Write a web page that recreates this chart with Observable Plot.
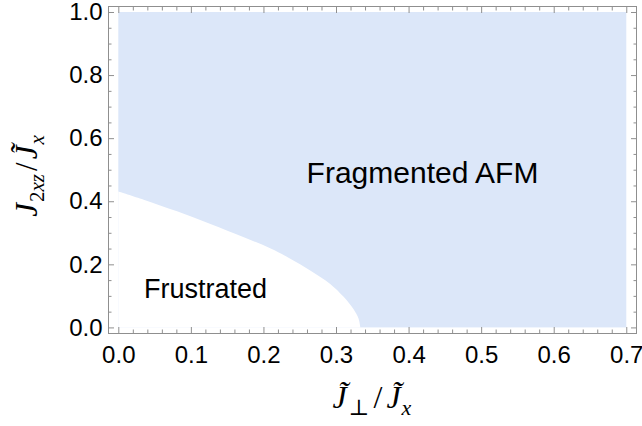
<!DOCTYPE html>
<html>
<head>
<meta charset="utf-8">
<script src="https://cdn.jsdelivr.net/npm/d3@7"></script>
<script src="https://cdn.jsdelivr.net/npm/@observablehq/plot@0.6"></script>
<style>
  html, body { margin: 0; padding: 0; background: white; }
</style>
</head>
<body>
<div id="chart"></div>
<script>
// ---- data ----
const regionX = [0, 0.7];   // extent of the computed phase diagram (x)
const regionY = [0, 1.0];   // extent (y)
// boundary of the "Frustrated" phase (ordered by y)
const boundaryY = [0, 0.028, 0.058, 0.097, 0.138, 0.180, 0.218, 0.250, 0.286, 0.328, 0.368, 0.405, 0.431];
const boundaryX = [0.3335, 0.331, 0.324, 0.3105, 0.292, 0.265, 0.237, 0.21, 0.173, 0.127, 0.081, 0.035, 0];
const phaseNames = ["Fragmented AFM", "Frustrated"];
const phaseX = [0.4185, 0.1195];
const phaseY = [0.458, 0.094];
const xMajor = [0, 0.1, 0.2, 0.3, 0.4, 0.5, 0.6, 0.7];
const yMajor = [0, 0.2, 0.4, 0.6, 0.8, 1.0];
const xMinor = d3.range(0, 36).map(i => i * 0.02).filter(v => Math.abs(v * 10 - Math.round(v * 10)) > 1e-6);
const yMinor = d3.range(0, 21).map(i => i * 0.05).filter(v => Math.abs(v * 5 - Math.round(v * 5)) > 1e-6);

// ---- build ----
const region = [{x1: regionX[0], x2: regionX[1], y1: regionY[0], y2: regionY[1]}];
const boundary = boundaryY.map((y, i) => ({y, x: boundaryX[i]}));
const phases = phaseNames.map((name, i) => ({name, x: phaseX[i], y: phaseY[i]}));

const blue = "#dce7f9";
const gray = "#8f8f8f";
const W = 642, H = 426;
const mL = 108, mR = 6, mT = 6, mB = 93;

const chart = Plot.plot({
  width: W, height: H,
  marginLeft: mL, marginRight: mR, marginTop: mT, marginBottom: mB,
  x: {domain: [-0.0142, 0.7134]},
  y: {domain: [-0.0177, 1.019]},
  style: {fontFamily: "'Liberation Sans', Arial, Helvetica, sans-serif", background: "white", color: "black"},
  marks: [
    Plot.rect(region, {x1: "x1", x2: "x2", y1: "y1", y2: "y2", fill: blue}),
    Plot.areaX(boundary, {y: "y", x1: 0, x2: "x", fill: "white", curve: "catmull-rom"}),
    Plot.text(phases.slice(0, 1), {x: "x", y: "y", text: "name", fontSize: 30, lineAnchor: "bottom", fill: "black"}),
    Plot.text(phases.slice(1), {x: "x", y: "y", text: "name", fontSize: 27, lineAnchor: "bottom", fill: "black"}),
    Plot.frame({stroke: gray}),
    // inward major ticks on all sides
    Plot.axisX(xMajor, {anchor: "bottom", tickSize: 6, dy: -6, tickFormat: () => "", stroke: gray, label: null}),
    Plot.axisX(xMajor, {anchor: "top", tickSize: 6, dy: 6, tickFormat: () => "", stroke: gray, label: null}),
    Plot.axisY(yMajor, {anchor: "left", tickSize: 6, dx: 6, tickFormat: () => "", stroke: gray, label: null}),
    Plot.axisY(yMajor, {anchor: "right", tickSize: 6, dx: -6, tickFormat: () => "", stroke: gray, label: null}),
    // inward minor ticks
    Plot.axisX(xMinor, {anchor: "bottom", tickSize: 3.5, dy: -3.5, tickFormat: () => "", stroke: gray, label: null}),
    Plot.axisX(xMinor, {anchor: "top", tickSize: 3.5, dy: 3.5, tickFormat: () => "", stroke: gray, label: null}),
    Plot.axisY(yMinor, {anchor: "left", tickSize: 3.5, dx: 3.5, tickFormat: () => "", stroke: gray, label: null}),
    Plot.axisY(yMinor, {anchor: "right", tickSize: 3.5, dx: -3.5, tickFormat: () => "", stroke: gray, label: null}),
    // tick labels
    Plot.axisX(xMajor, {anchor: "bottom", tickSize: 0, tickPadding: 12, tickFormat: d3.format(".1f"), fontSize: 24, fill: "black", label: null}),
    Plot.axisY(yMajor, {anchor: "left", tickSize: 0, tickPadding: 6, tickFormat: d3.format(".1f"), fontSize: 24, fill: "black", label: null})
  ]
});
document.getElementById("chart").appendChild(chart);

// ---- math axis labels (real text with subscripts) ----
const svg = d3.select(chart);
const xr = chart.scale("x").range;
const serif = "'Liberation Serif', 'DejaVu Serif', 'Times New Roman', serif";

function addParts(textSel, parts) {
  for (const p of parts) {
    const t = textSel.append("tspan").text(p.t);
    if (p.i) t.attr("font-style", "italic");
    if (p.s) t.attr("font-size", p.s);
    if (p.dy) t.attr("dy", p.dy);
    if (p.dx) t.attr("dx", p.dx);
  }
}

const xlab = svg.append("text")
  .attr("x", (xr[0] + xr[1]) / 2)
  .attr("y", H - mB + 75)
  .attr("text-anchor", "middle")
  .attr("font-family", serif)
  .attr("font-size", 32)
  .attr("fill", "black");
addParts(xlab, [
  {t: "J\u0303", i: true},
  {t: "\u22A5", s: 22, dy: 7, dx: 2},
  {t: "/", dy: -7, dx: 4},
  {t: "J\u0303", i: true, dx: 4},
  {t: "x", i: true, s: 22, dy: 7, dx: 1}
]);

const ylab = svg.append("text")
  .attr("transform", `translate(37,176) rotate(-90)`)
  .attr("text-anchor", "middle")
  .attr("font-family", serif)
  .attr("font-size", 31)
  .attr("fill", "black");
addParts(ylab, [
  {t: "J", i: true},
  {t: "2", s: 21, dy: 7, dx: 1},
  {t: "xz", i: true, s: 21},
  {t: "/", dy: -7, dx: 3},
  {t: "J\u0303", i: true, dx: 3},
  {t: "x", i: true, s: 21, dy: 7, dx: 1}
]);
</script>
</body>
</html>
